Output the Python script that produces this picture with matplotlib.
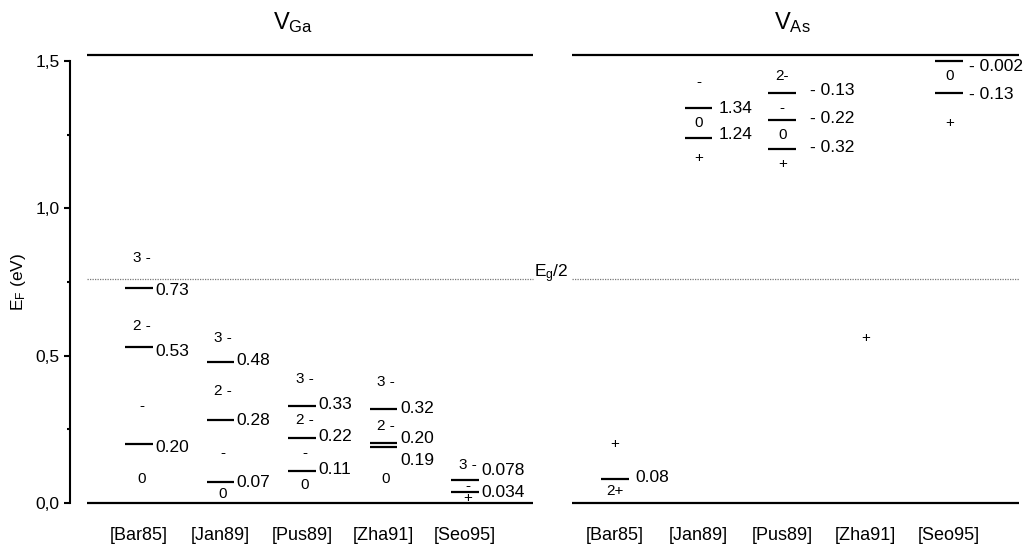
import matplotlib
matplotlib.use('Agg')
import matplotlib.pyplot as plt

plt.rcParams['font.family'] = ['Liberation Sans', 'DejaVu Sans']

# reference labels (same for both panels)
cats = ['[Bar85]', '[Jan89]', '[Pus89]', '[Zha91]', '[Seo95]']

# band gap (eV)
Eg = 1.52

# V_Ga levels (eV), their value labels and label heights
ga_levels = [[0.73, 0.53, 0.20], [0.48, 0.28, 0.07], [0.33, 0.22, 0.11],
             [0.32, 0.203, 0.19], [0.078, 0.036]]
ga_text = [['0.73', '0.53', '0.20'], ['0.48', '0.28', '0.07'], ['0.33', '0.22', '0.11'],
           ['0.32', '0.20', '0.19'], ['0.078', '0.034']]
ga_text_y = [[0.72, 0.515, 0.19], [0.485, 0.28, 0.07], [0.335, 0.225, 0.115],
             [0.32, 0.22, 0.143], [0.11, 0.034]]
# charge states written between the levels
ga_charge = [['3 -', '2 -', '-', '0'], ['3 -', '2 -', '-', '0'], ['3 -', '2 -', '-', '0'],
             ['3 -', '2 -', '0'], ['3 -', '-', '+']]
ga_charge_y = [[0.83, 0.60, 0.33, 0.08], [0.56, 0.38, 0.17, 0.03], [0.42, 0.28, 0.17, 0.06],
               [0.41, 0.26, 0.08], [0.13, 0.058, 0.017]]

# V_As levels
as_levels = [[0.08], [1.34, 1.24], [1.39, 1.30, 1.20], [], [1.50, 1.39]]
as_text = [['0.08'], ['1.34', '1.24'], ['- 0.13', '- 0.22', '- 0.32'], [], ['- 0.002', '- 0.13']]
as_text_y = [[0.088], [1.34, 1.25], [1.40, 1.305, 1.205], [], [1.48, 1.385]]
as_text_gap = [0.08, 0.08, 0.17, 0.0, 0.07]
as_charge = [['+', '2+'], ['-', '0', '+'], ['2-', '-', '0', '+'], ['+'], ['0', '+']]
as_charge_y = [[0.20, 0.04], [1.43, 1.29, 1.17], [1.45, 1.34, 1.25, 1.15], [0.56], [1.45, 1.29]]

ga_x = [1, 2, 3, 4, 5]
as_x = [6.84 + 1.025 * i for i in range(5)]

fig = plt.figure(figsize=(10.3, 5.52), dpi=100)
ax = fig.add_axes([70 / 1030, 49 / 552, 960 / 1030, 442 / 552])
ax.set_xlim(0.153, 11.93)
ax.set_ylim(0, 1.5)

hw = 0.17  # half width of a level bar
fs_val = 12.5
fs_q = 11

# band edges and midgap line, split into two panels
for x0, x1 in [(0.362, 5.834), (6.313, 11.80)]:
    ax.plot([x0, x1], [0, 0], color='black', lw=1.6, clip_on=False, solid_capstyle='butt')
    ax.plot([x0, x1], [Eg, Eg], color='black', lw=1.6, clip_on=False, solid_capstyle='butt')
    ax.plot([x0, x1], [Eg / 2, Eg / 2], color='#777777', lw=0.9, ls=(0, (1, 1)), clip_on=False)
ax.text(5.84, Eg / 2 + 0.005, r'$\mathregular{E_g}$/2', fontsize=fs_val, ha='left', va='baseline')

# V_Ga
for i, x in enumerate(ga_x):
    for lev in ga_levels[i]:
        ax.plot([x - hw, x + hw], [lev, lev], color='black', lw=1.6, solid_capstyle='butt')
    for t, ty in zip(ga_text[i], ga_text_y[i]):
        ax.text(x + hw + 0.03, ty, t, fontsize=fs_val, ha='left', va='center')
    for q, qy in zip(ga_charge[i], ga_charge_y[i]):
        ax.text(x + 0.03, qy, q, fontsize=fs_q, ha='center', va='center')

# V_As
for i, x in enumerate(as_x):
    for lev in as_levels[i]:
        ax.plot([x - hw, x + hw], [lev, lev], color='black', lw=1.6, solid_capstyle='butt',
                clip_on=False)
    for t, ty in zip(as_text[i], as_text_y[i]):
        ax.text(x + hw + as_text_gap[i], ty, t, fontsize=fs_val, ha='left', va='center',
                clip_on=False)
    for q, qy in zip(as_charge[i], as_charge_y[i]):
        ax.text(x, qy, q, fontsize=fs_q, ha='center', va='center')

# panel titles
ax.text(2.89, 1.632, r'$\mathregular{V_{Ga}}$', fontsize=17, ha='center', va='center')
ax.text(9.01, 1.632, r'$\mathregular{V_{As}}$', fontsize=17, ha='center', va='center')

# axes styling
for s in ['top', 'right', 'bottom']:
    ax.spines[s].set_visible(False)
ax.spines['left'].set_linewidth(1.5)
ax.set_yticks([0, 0.5, 1.0, 1.5])
ax.set_yticklabels(['0,0', '0,5', '1,0', '1,5'], fontsize=12.5)
ax.set_yticks([0.25, 0.75, 1.25], minor=True)
ax.tick_params(axis='y', which='major', length=4.5, width=1.5, pad=3)
ax.tick_params(axis='y', which='minor', length=2.2, width=1.5)
ax.set_xticks(ga_x + as_x)
ax.set_xticklabels(cats + cats, fontsize=13)
ax.tick_params(axis='x', length=0, pad=17)
ax.set_ylabel(r'$\mathregular{E_F}$ (eV)', fontsize=12.5, labelpad=5)

fig.savefig('out.png', dpi=100)
